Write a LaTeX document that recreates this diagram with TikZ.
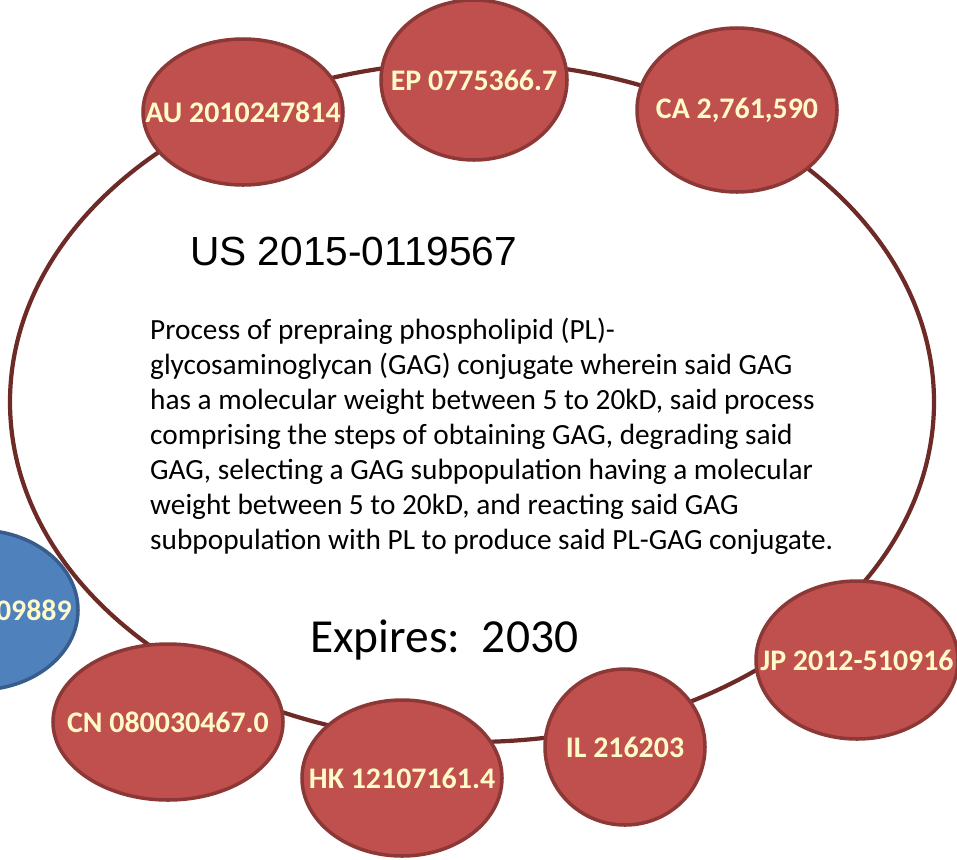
\documentclass[tikz,border=0pt]{standalone}
\usepackage{fontspec}
\setmainfont{Carlito}
\newfontfamily\arialfont{Liberation Sans}
\usetikzlibrary{shapes.geometric}

\definecolor{patred}{HTML}{C0504D}
\definecolor{patredline}{HTML}{8C3836}
\definecolor{patblue}{HTML}{4F81BD}
\definecolor{patblueline}{HTML}{385D8A}
\definecolor{ringcol}{HTML}{6E2A26}
\definecolor{labelcol}{HTML}{FFFBC8}

\tikzset{
  patent/.style={ellipse,draw=patredline,fill=patred,line width=3pt,inner sep=0pt,
    label={[text=labelcol,font=\fontsize{25.5}{30}\selectfont\bfseries]center:#1}},
  patentblue/.style={ellipse,draw=patblueline,fill=patblue,line width=3pt,inner sep=0pt},
  ring/.style={draw=ringcol,line width=3.6pt}
}

\begin{document}
\begin{tikzpicture}[x=0.03cm,y=-0.03cm]
\useasboundingbox (0,0) rectangle (957,859);
            % Ring
\draw[ring] (472,402) ellipse [x radius=462, y radius=340];
            % Patents
\node[patentblue,minimum width=200*0.03cm,minimum height=160*0.03cm] (wo) at (-22,610) {};
\node[text=labelcol,font=\fontsize{25.5}{30}\selectfont\bfseries,anchor=east,inner sep=0pt] (wotxt) at (72,610) {09889};
\node[patent={AU 2010247814},minimum width=200*0.03cm,minimum height=146*0.03cm] (au) at (243,112) {};
\node[patent={EP 0775366.7},minimum width=186*0.03cm,minimum height=160*0.03cm] (ep) at (474,80) {};
\node[patent={CA 2,761,590},minimum width=200*0.03cm,minimum height=164*0.03cm] (ca) at (737,110) {};
\node[patent={JP 2012-510916},minimum width=202*0.03cm,minimum height=158*0.03cm] (jp) at (857,660) {};
\node[patent={IL 216203},minimum width=160*0.03cm,minimum height=156*0.03cm] (il) at (625,747) {};
\node[patent={HK 12107161.4},minimum width=200*0.03cm,minimum height=156*0.03cm] (hk) at (402,778) {};
\node[patent={CN 080030467.0},minimum width=230*0.03cm,minimum height=156*0.03cm] (cn) at (168,722) {};
            % Texts
\node[anchor=base west,inner sep=0pt,font=\arialfont\fontsize{34.7}{40}\selectfont] (title) at (190,265) {US 2015-0119567};
\node[anchor=north west,inner sep=0pt,align=left,font=\fontsize{25}{29.8}\selectfont] (claim) at (150,318)
  {Process of prepraing phospholipid (PL)-\\
   glycosaminoglycan (GAG) conjugate wherein said GAG\\
   has a molecular weight between 5 to 20kD, said process\\
   comprising the steps of obtaining GAG, degrading said\\
   GAG, selecting a GAG subpopulation having a molecular\\
   weight between 5 to 20kD, and reacting said GAG\\
   subpopulation with PL to produce said PL-GAG conjugate.};
\node[anchor=base west,inner sep=0pt,font=\fontsize{40.5}{48}\selectfont] (expires) at (310,652) {Expires:\ \ 2030};
\end{tikzpicture}
\end{document}
